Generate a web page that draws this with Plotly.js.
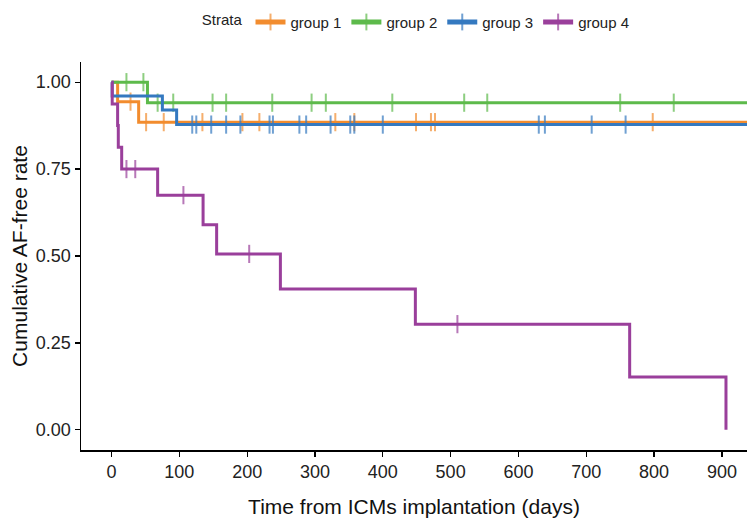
<!DOCTYPE html>
<html>
<head>
<meta charset="utf-8">
<script src="https://cdn.plot.ly/plotly-3.0.1.min.js"></script>
<style>html,body{margin:0;padding:0;background:#fff;}#chart{width:747px;height:522px;}</style>
</head>
<body>
<div id="chart"></div>
<script>
// ---- data ----
const groupNames = ["group 1", "group 2", "group 3", "group 4"];
const groupColors = ["#F28C2E", "#5DBA4B", "#3479C0", "#9A3F9B"];

// group 1
const g1EventTimes = [9, 40];
const g1Surv = [0.944, 0.885];
const g1CensorTimes = [28, 51, 77, 134, 193, 218, 330, 358, 449, 471, 477, 798];
const g1EndTime = 960;

// group 2
const g2EventTimes = [53];
const g2Surv = [0.941];
const g2CensorTimes = [22, 47, 68, 91, 149, 169, 237, 295, 316, 414, 520, 554, 750, 829];
const g2EndTime = 960;

// group 3
const g3EventTimes = [1, 75, 96];
const g3Surv = [0.96, 0.92, 0.878];
const g3CensorTimes = [119, 125, 147, 169, 190, 233, 238, 277, 287, 323, 352, 358, 400, 630, 639, 708, 758];
const g3EndTime = 960;

// group 4
const g4EventTimes = [1, 9, 10, 15, 68, 135, 155, 249, 448, 764, 906];
const g4Surv = [0.9375, 0.875, 0.8125, 0.75, 0.675, 0.59, 0.506, 0.405, 0.304, 0.152, 0];
const g4CensorTimes = [22, 35, 106, 203, 510];
const g4EndTime = 906;

const xTickVals = [0, 100, 200, 300, 400, 500, 600, 700, 800, 900];
const yTickVals = [0, 0.25, 0.5, 0.75, 1];

// ---- build step curves ----
function survAt(t, ev, sv) {
  let s = 1;
  for (let i = 0; i < ev.length; i++) if (ev[i] <= t) s = sv[i];
  return s;
}
function buildCurve(ev, sv, cens, endT) {
  const pts = [{t: 0, s: 1, c: false}];
  ev.forEach((t, i) => pts.push({t: t, s: sv[i], c: false}));
  cens.forEach(t => pts.push({t: t, s: survAt(t, ev, sv), c: true}));
  pts.sort((a, b) => a.t - b.t || (a.c - b.c));
  const last = pts[pts.length - 1];
  if (last.t < endT) pts.push({t: endT, s: survAt(endT, ev, sv), c: false});
  return pts;
}

const groups = [
  [g1EventTimes, g1Surv, g1CensorTimes, g1EndTime],
  [g2EventTimes, g2Surv, g2CensorTimes, g2EndTime],
  [g3EventTimes, g3Surv, g3CensorTimes, g3EndTime],
  [g4EventTimes, g4Surv, g4CensorTimes, g4EndTime]
];

const traces = groups.map((g, i) => {
  const pts = buildCurve(g[0], g[1], g[2], g[3]);
  return {
    type: "scatter",
    mode: "lines+markers",
    name: groupNames[i],
    x: pts.map(p => p.t),
    y: pts.map(p => p.s),
    line: {shape: "hv", color: groupColors[i], width: 3},
    marker: {
      symbol: "line-ns",
      size: pts.map(p => p.c ? 13 : 0),
      color: groupColors[i],
      line: {color: groupColors[i], width: 2}
    },
    hoverinfo: "skip",
    cliponaxis: true
  };
});

const layout = {
  width: 747,
  height: 522,
  margin: {l: 81, r: 0, t: 62, b: 72},
  paper_bgcolor: "#ffffff",
  plot_bgcolor: "#ffffff",
  font: {family: "Liberation Sans, Arial, sans-serif", color: "#222222"},
  showlegend: true,
  legend: {
    orientation: "h",
    x: 0.505, xanchor: "center",
    y: 1.145, yanchor: "top",
    itemsizing: "constant",
    font: {size: 15, color: "#222222"},
    title: {text: "Strata", side: "left", font: {size: 15, color: "#222222"}},
    traceorder: "normal"
  },
  xaxis: {
    range: [-45, 937],
    tickvals: xTickVals,
    ticktext: xTickVals.map(String),
    showgrid: false, zeroline: false,
    showline: true, linecolor: "#000000", linewidth: 1.5,
    ticks: "outside", ticklen: 5, tickwidth: 1.2, tickcolor: "#000000",
    tickfont: {size: 18, color: "#222222"},
    title: {text: "Time from ICMs implantation (days)", font: {size: 21, color: "#111111"}, standoff: 18}
  },
  yaxis: {
    range: [-0.058, 1.058],
    tickvals: yTickVals,
    tickformat: ".2f",
    showgrid: false, zeroline: false,
    showline: true, linecolor: "#000000", linewidth: 1.5,
    ticks: "outside", ticklen: 5, tickwidth: 1.2, tickcolor: "#000000",
    tickfont: {size: 18, color: "#222222"},
    title: {text: "Cumulative AF-free rate", font: {size: 21, color: "#111111"}, standoff: 2}
  }
};

Plotly.newPlot("chart", traces, layout, {displayModeBar: false, staticPlot: true});
</script>
</body>
</html>
